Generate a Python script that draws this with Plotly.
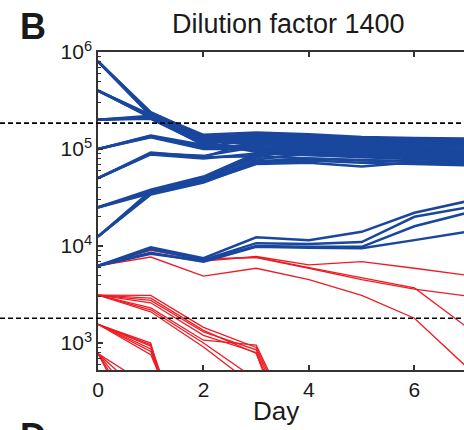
import math
import plotly.graph_objects as go

# Sampling days
days = [0, 1, 2, 3, 4, 5, 6, 7]

# Cultures that establish (blue), grouped by inoculum size
blue_lines = [
    # inoculum 8e5
    [8.0e5, 2.40e5, 1.35e5, 1.40e5, 1.35e5, 1.30e5, 1.25e5, 1.20e5],
    [8.0e5, 2.30e5, 1.30e5, 1.25e5, 1.20e5, 1.15e5, 1.10e5, 1.05e5],
    [8.0e5, 2.20e5, 1.25e5, 1.10e5, 1.05e5, 1.00e5, 9.5e4, 9.0e4],
    [8.0e5, 2.35e5, 1.40e5, 1.48e5, 1.42e5, 1.33e5, 1.30e5, 1.28e5],
    [8.0e5, 2.28e5, 1.33e5, 1.32e5, 1.28e5, 1.24e5, 1.20e5, 1.16e5],
    [8.0e5, 2.25e5, 1.28e5, 1.17e5, 1.12e5, 1.08e5, 1.04e5, 1.00e5],
    # inoculum 4e5
    [4.0e5, 2.20e5, 1.20e5, 1.30e5, 1.25e5, 1.20e5, 1.15e5, 1.10e5],
    [4.0e5, 2.10e5, 1.15e5, 1.00e5, 9.5e4, 9.0e4, 8.5e4, 8.0e4],
    [4.0e5, 2.25e5, 1.30e5, 1.20e5, 1.15e5, 1.10e5, 1.05e5, 1.00e5],
    [4.0e5, 2.18e5, 1.22e5, 1.44e5, 1.38e5, 1.31e5, 1.27e5, 1.24e5],
    [4.0e5, 2.12e5, 1.18e5, 9.3e4, 8.8e4, 8.5e4, 8.1e4, 7.9e4],
    # inoculum 2e5
    [2.0e5, 2.20e5, 1.25e5, 1.35e5, 1.30e5, 1.25e5, 1.20e5, 1.15e5],
    [2.0e5, 2.10e5, 1.10e5, 1.05e5, 1.00e5, 9.5e4, 9.0e4, 8.8e4],
    [2.0e5, 2.15e5, 1.20e5, 1.15e5, 1.10e5, 1.05e5, 1.00e5, 9.8e4],
    [2.0e5, 2.05e5, 1.12e5, 9.7e4, 9.2e4, 8.8e4, 8.4e4, 8.2e4],
    # inoculum 1e5
    [1.0e5, 1.36e5, 1.05e5, 1.25e5, 1.20e5, 1.15e5, 1.12e5, 1.10e5],
    [1.0e5, 1.32e5, 1.00e5, 1.00e5, 9.5e4, 9.2e4, 9.0e4, 8.6e4],
    [1.0e5, 1.38e5, 1.10e5, 1.42e5, 1.36e5, 1.28e5, 1.22e5, 1.18e5],
    [1.0e5, 1.34e5, 1.02e5, 1.12e5, 1.07e5, 1.02e5, 9.7e4, 9.4e4],
    # inoculum 5e4
    [5.0e4, 9.2e4, 8.3e4, 1.20e5, 1.15e5, 1.10e5, 1.05e5, 1.00e5],
    [5.0e4, 8.8e4, 8.0e4, 9.0e4, 8.6e4, 8.2e4, 7.8e4, 7.5e4],
    [5.0e4, 9.0e4, 8.5e4, 1.05e5, 1.00e5, 9.6e4, 9.3e4, 9.0e4],
    [5.0e4, 8.9e4, 8.2e4, 8.4e4, 8.0e4, 7.7e4, 7.4e4, 7.2e4],
    # inoculum 2.5e4
    [2.5e4, 3.8e4, 5.2e4, 9.0e4, 9.5e4, 9.2e4, 8.8e4, 8.5e4],
    [2.5e4, 3.6e4, 4.8e4, 7.5e4, 8.0e4, 7.6e4, 7.5e4, 7.2e4],
    [2.5e4, 3.7e4, 5.0e4, 8.2e4, 1.05e5, 1.08e5, 1.02e5, 9.6e4],
    [2.5e4, 3.5e4, 4.6e4, 7.0e4, 7.2e4, 6.6e4, 7.3e4, 7.0e4],
    # inoculum 1.25e4
    [1.25e4, 3.6e4, 4.9e4, 8.5e4, 1.10e5, 1.15e5, 1.12e5, 1.08e5],
    [1.25e4, 3.4e4, 4.5e4, 7.2e4, 7.6e4, 7.2e4, 7.0e4, 6.8e4],
    [1.25e4, 3.5e4, 4.7e4, 7.8e4, 9.0e4, 8.5e4, 8.0e4, 7.8e4],
    [1.25e4, 3.7e4, 5.1e4, 8.8e4, 1.25e5, 1.30e5, 1.25e5, 1.20e5],
    # inoculum 6.25e3
    [6250, 9700, 7500, 12300, 11500, 14000, 22000, 29000],
    [6250, 9300, 7200, 10700, 10500, 11000, 20000, 25000],
    [6250, 8300, 7000, 10000, 9800, 9800, 16000, 22000],
    [6250, 8500, 6900, 9800, 9600, 9500, 11500, 14000],
]

# Cultures that go extinct (red)
red_lines = [
    # inoculum 6.25e3
    [6250, 8500, 7000, 7800, 6400, 6900, 5900, 5000],
    [6250, 9500, 7400, 7600, 5900, 4500, 3600, 3050],
    [6250, 9000, 7200, 7700, 6000, 4700, 3700, 1450],
    [6250, 7700, 4900, 5900, 4500, 3100, 1800, 560],
    # inoculum 3.125e3
    [3125, 3100, 1450, 900, 60],
    [3125, 2750, 1300, 850, 50],
    [3125, 2600, 1200, 800, 40],
    [3125, 2300, 1070, 950, 70],
    [3125, 2100, 910, 350],
    [3125, 2200, 1000, 420],
    [3125, 2900, 1350, 780, 30],
    # inoculum 1.56e3
    [1560, 1000, 10],
    [1560, 930, 15],
    [1560, 870, 20],
    [1560, 820, 30],
    [1560, 760, 40],
    [1560, 960, 25],
    # inoculum 780
    [780, 350],
    [780, 250],
    [780, 160],
    [780, 100],
    [780, 70],
]

# Dashed reference densities
thresholds = [1.85e5, 1.8e3]

major_ticks = [1e3, 1e4, 1e5, 1e6]
major_text = ["10<sup>3</sup>", "10<sup>4</sup>", "10<sup>5</sup>", "10<sup>6</sup>"]
minor_ticks = [m * 10 ** e for e in range(2, 6) for m in range(2, 10)]
x_ticks = [0, 2, 4, 6]

BLUE = "#1a479e"
RED = "#ec1c24"
FONT = "Liberation Sans, Arial, sans-serif"

Y_MIN, Y_MAX = 2.722, 6.0   # log10 range
X_MAX = 6.94

fig = go.Figure()

for ys in red_lines:
    fig.add_trace(go.Scatter(x=days[:len(ys)], y=ys, mode="lines",
                             line=dict(color=RED, width=1.3),
                             hoverinfo="skip"))
for ys in blue_lines:
    fig.add_trace(go.Scatter(x=days[:len(ys)], y=ys, mode="lines",
                             line=dict(color=BLUE, width=2.5),
                             hoverinfo="skip"))

L, R, T, B = 98, 0, 52, 60
W, H = 464, 430
plot_w = W - L - R
plot_h = H - T - B

for v in thresholds:
    yp = (math.log10(v) - Y_MIN) / (Y_MAX - Y_MIN)
    fig.add_shape(type="line", xref="paper", yref="paper",
                  x0=-L / plot_w, x1=1.0, y0=yp, y1=yp,
                  line=dict(color="black", width=1.6, dash="5px,3px"))

fig.update_layout(
    width=W, height=H,
    margin=dict(l=L, r=R, t=T, b=B),
    paper_bgcolor="white", plot_bgcolor="white",
    showlegend=False,
    font=dict(family=FONT, color="#1a1a1a", size=21),
    xaxis=dict(range=[0, X_MAX], tickvals=x_ticks, ticks="inside",
               ticklen=5, tickwidth=1.5, tickcolor="#333",
               showline=True, linecolor="#333", linewidth=1.5,
               mirror="ticks", showgrid=False, zeroline=False,
               tickfont=dict(size=21)),
    yaxis=dict(type="log", range=[Y_MIN, Y_MAX],
               tickvals=major_ticks, ticktext=major_text,
               ticks="inside", ticklen=5, tickwidth=1.5, tickcolor="#333",
               showline=True, linecolor="#333", linewidth=1.5,
               mirror=False, showgrid=False, zeroline=False,
               tickfont=dict(size=21),
               minor=dict(tickvals=minor_ticks, ticks="inside",
                          ticklen=3, tickwidth=1, tickcolor="#333",
                          showgrid=False)),
    annotations=[
        dict(text="Dilution factor 1400", xref="paper", yref="paper",
             x=(288 - L) / plot_w, y=1 + (T - 24) / plot_h,
             xanchor="center", yanchor="middle", showarrow=False,
             font=dict(size=27, family=FONT, color="#1a1a1a")),
        dict(text="<b>B</b>", xref="paper", yref="paper",
             x=(33 - L) / plot_w, y=1 + (T - 27) / plot_h,
             xanchor="center", yanchor="middle", showarrow=False,
             font=dict(size=36, family=FONT, color="#1a1a1a")),
        dict(text="Day", xref="paper", yref="paper",
             x=(276 - L) / plot_w, y=-(411 - (H - B)) / plot_h,
             xanchor="center", yanchor="middle", showarrow=False,
             font=dict(size=26, family=FONT, color="#1a1a1a")),
        dict(text="<b>D</b>", xref="paper", yref="paper",
             x=(33 - L) / plot_w, y=-(436 - (H - B)) / plot_h,
             xanchor="center", yanchor="middle", showarrow=False,
             font=dict(size=36, family=FONT, color="#1a1a1a")),
    ],
)

fig.write_html("out.html", config={"displayModeBar": False})
